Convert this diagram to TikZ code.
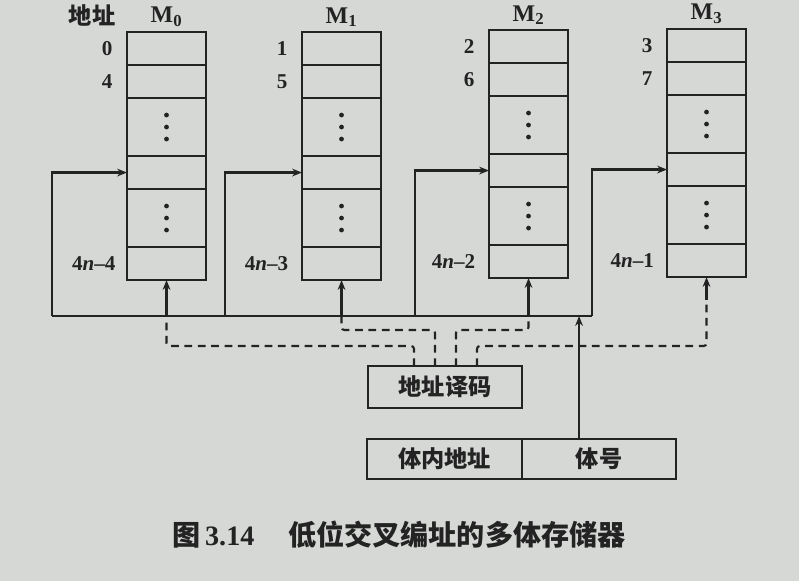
\documentclass[tikz,border=0pt]{standalone}
\usepackage{fontspec}
\setmainfont{Liberation Serif}
\newfontfamily\cjk{Noto Sans CJK SC}
\usetikzlibrary{arrows.meta,positioning}

\definecolor{paper}{RGB}{214,216,214}
\definecolor{ink}{RGB}{35,35,35}

\tikzset{
  cell/.style={draw, rectangle, minimum width=1.975cm, inner sep=0pt, outer sep=0pt,
    line width=1.8pt},
  short/.style={minimum height=0.825cm},
  tall/.style={minimum height=1.45cm},
  numlbl/.style={inner sep=0pt, font=\bfseries\fontsize{15}{18}\selectfont},
  titlbl/.style={inner sep=0pt, font=\bfseries\fontsize{17}{20}\selectfont},
  cnlbl/.style={inner sep=0pt, font=\cjk\bfseries\fontsize{16.5}{20}\selectfont},
  regbox/.style={draw, rectangle, line width=1.8pt, outer sep=0pt, inner sep=0pt,
    font=\cjk\bfseries\fontsize{16.5}{20}\selectfont},
  sel/.style={dash pattern=on 5.5pt off 4pt}
}

\begin{document}
\begin{tikzpicture}[x=0.025cm, y=-0.025cm, >={Stealth[length=7pt,width=5.5pt]}, line width=1.5pt, color=ink]

\fill[paper] (0,0) rectangle (799,581);
\useasboundingbox (0,0) rectangle (799,581);

% Define the memory modules
\node[cell, short, anchor=north west] (M0a) at (127,32) {};
\node[cell, short, below=0pt of M0a] (M0b) {};
\node[cell, tall, below=0pt of M0b] (M0c) {};
\node[cell, short, below=0pt of M0c] (M0d) {};
\node[cell, tall, below=0pt of M0d] (M0e) {};
\node[cell, short, below=0pt of M0e] (M0f) {};

\node[cell, short, anchor=north west] (M1a) at (302,32) {};
\node[cell, short, below=0pt of M1a] (M1b) {};
\node[cell, tall, below=0pt of M1b] (M1c) {};
\node[cell, short, below=0pt of M1c] (M1d) {};
\node[cell, tall, below=0pt of M1d] (M1e) {};
\node[cell, short, below=0pt of M1e] (M1f) {};

\node[cell, short, anchor=north west] (M2a) at (489,30) {};
\node[cell, short, below=0pt of M2a] (M2b) {};
\node[cell, tall, below=0pt of M2b] (M2c) {};
\node[cell, short, below=0pt of M2c] (M2d) {};
\node[cell, tall, below=0pt of M2d] (M2e) {};
\node[cell, short, below=0pt of M2e] (M2f) {};

\node[cell, short, anchor=north west] (M3a) at (667,29) {};
\node[cell, short, below=0pt of M3a] (M3b) {};
\node[cell, tall, below=0pt of M3b] (M3c) {};
\node[cell, short, below=0pt of M3c] (M3d) {};
\node[cell, tall, below=0pt of M3d] (M3e) {};
\node[cell, short, below=0pt of M3e] (M3f) {};

% dots in the skipped rows
\foreach \c in {M0c,M0e,M1c,M1e,M2c,M2e,M3c,M3e}
  \foreach \d in {-12,0,12}
    \fill (\c.center) ++(0,\d) circle (1.7pt);

% Module titles and addresses
\node[cnlbl] (ADR) at (92,15) {地址};
\node[titlbl, above=3pt of M0a] (T0) {M$_\mathbf{0}$};
\node[titlbl, above=3pt of M1a] (T1) {M$_\mathbf{1}$};
\node[titlbl, above=3pt of M2a] (T2) {M$_\mathbf{2}$};
\node[titlbl, above=3pt of M3a] (T3) {M$_\mathbf{3}$};

\node[numlbl, left=3.4mm of M0a] (N0a) {0};
\node[numlbl, left=3.4mm of M0b] (N0b) {4};
\node[numlbl, left=2.6mm of M0f] (N0f) {4\textit{n}--4};
\node[numlbl, left=3.4mm of M1a] (N1a) {1};
\node[numlbl, left=3.4mm of M1b] (N1b) {5};
\node[numlbl, left=3.2mm of M1f] (N1f) {4\textit{n}--3};
\node[numlbl, left=3.4mm of M2a] (N2a) {2};
\node[numlbl, left=3.4mm of M2b] (N2b) {6};
\node[numlbl, left=3.2mm of M2f] (N2f) {4\textit{n}--2};
\node[numlbl, left=3.4mm of M3a] (N3a) {3};
\node[numlbl, left=3.4mm of M3b] (N3b) {7};
\node[numlbl, left=3.0mm of M3f] (N3f) {4\textit{n}--1};

% Decoder and address register
\node[regbox, minimum width=3.85cm, minimum height=1.05cm] (DEC) at (445,387) {地址译码};
\node[regbox, minimum width=3.875cm, minimum height=1cm, anchor=north west] (BA) at (367,439) {体内地址};
\node[regbox, minimum width=3.85cm, minimum height=1cm, right=0pt of BA] (BN) {体号};

\node[inner sep=0pt, font=\cjk\bfseries\fontsize{20}{24}\selectfont] (CAP) at (399,535)
  {图\,{\rmfamily\bfseries 3.14}\hspace{1.2em}低位交叉编址的多体存储器};

% Address bus
\coordinate (B0) at (52,316);
\coordinate (B1) at (225,316);
\coordinate (B2) at (415,316);
\coordinate (B3) at (592,316);
\draw (B0) -- (B3);
\draw[->] (B0) |- (M0d);
\draw[->] (B1) |- (M1d);
\draw[->] (B2) |- (M2d);
\draw[->] (B3) |- (M3d);
\coordinate (RB) at ([xshift=-5mm]BN.north);
\draw[->] (RB) -- (RB |- B0);

% Module select lines
\coordinate (S0) at (M0f.south |- B0);
\coordinate (S1) at (M1f.south |- B0);
\coordinate (S2) at (M2f.south |- B0);
\coordinate (S3) at (M3f.south |- 0,300);
\draw[->] (S0) -- (M0f);
\draw[->] (S1) -- (M1f);
\draw[->] (S2) -- (M2f);
\draw[->] (S3) -- (M3f);

\coordinate (D1) at ([xshift=-7.75mm]DEC.north);
\coordinate (D2) at ([xshift=-2.5mm]DEC.north);
\coordinate (D3) at ([xshift=2.75mm]DEC.north);
\coordinate (D4) at ([xshift=8mm]DEC.north);
\draw[sel, rounded corners=2pt] (D1) -- (D1 |- 0,346) -| (S0);
\draw[sel, rounded corners=2pt] (D2) -- (D2 |- 0,330) -| (S1);
\draw[sel, rounded corners=2pt] (D3) -- (D3 |- 0,330) -| (S2);
\draw[sel, rounded corners=2pt] (D4) -- (D4 |- 0,346) -| (S3);

\end{tikzpicture}
\end{document}
